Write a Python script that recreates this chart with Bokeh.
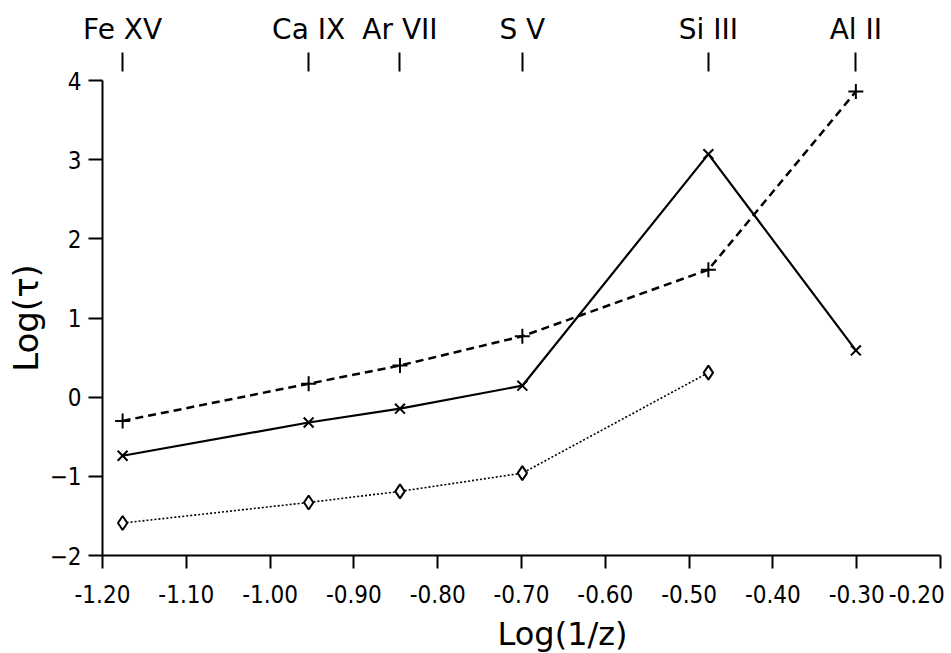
from bokeh.plotting import figure
from bokeh.models import Range1d, FixedTicker, LinearAxis, Title
from bokeh.embed import file_html
from bokeh.resources import INLINE

# ---- data ----
ion_elements = ["Fe", "Ca", "Ar", "S", "Si", "Al"]
ion_stages = ["XV", "IX", "VII", "V", "III", "II"]
log_inv_z = [-1.176, -0.954, -0.845, -0.699, -0.477, -0.301]

tau_dashed = [-0.30, 0.17, 0.40, 0.77, 1.61, 3.86]     # '+' markers
tau_solid = [-0.74, -0.32, -0.145, 0.145, 3.07, 0.59]  # 'x' markers
tau_dotted = [-1.59, -1.33, -1.19, -0.96, 0.31]        # diamonds (no Al II)

x_ticks = [-1.2, -1.1, -1.0, -0.9, -0.8, -0.7, -0.6, -0.5, -0.4, -0.3, -0.2]
x_tick_labels = ["-1.20", "-1.10", "-1.00", "-0.90", "-0.80", "-0.70",
                 "-0.60", "-0.50", "-0.40", "-0.30", "-0.20\u00a0"]
y_ticks = [-2, -1, 0, 1, 2, 3, 4]

NARROW = "DejaVu Sans Condensed"

p = figure(width=951, height=653, output_backend="svg", toolbar_location=None,
           x_range=Range1d(-1.2, -0.2), y_range=Range1d(-2, 4),
           min_border_left=102, min_border_right=11, min_border_top=80,
           min_border_bottom=97, background_fill_color="white",
           border_fill_color="white")
p.outline_line_color = None
p.grid.visible = False

# axes
xa = p.xaxis[0]
xa.ticker = FixedTicker(ticks=x_ticks)
xa.major_label_overrides = {t: l for t, l in zip(x_ticks, x_tick_labels)}
xa.bounds = (-1.2, -0.2)
ya = p.yaxis[0]
ya.ticker = FixedTicker(ticks=y_ticks)
ya.bounds = (-2, 4)
for ax in (xa, ya):
    ax.axis_line_width = 2
    ax.axis_line_color = "black"
    ax.major_tick_line_width = 2
    ax.major_tick_line_color = "black"
    ax.major_tick_in = 0
    ax.minor_tick_line_color = None
    ax.major_label_text_font = NARROW
    ax.major_label_text_font_size = "24px"
    ax.major_label_text_color = "black"
xa.major_tick_out = 13
xa.major_label_standoff = 12
ya.major_tick_out = 14
ya.major_label_standoff = 7
ya.axis_label = "Log(\u03c4)"
ya.axis_label_text_font = "DejaVu Sans"
ya.axis_label_text_font_size = "34px"
ya.axis_label_text_font_style = "normal"
ya.axis_label_text_color = "black"
ya.axis_label_standoff = 1

# top axis with ion names
ion_labels = [e + " " + s for e, s in zip(ion_elements, ion_stages)]
top = LinearAxis(ticker=FixedTicker(ticks=log_inv_z),
                 major_label_overrides={x: l for x, l in zip(log_inv_z, ion_labels)})
top.axis_line_color = None
top.minor_tick_line_color = None
top.major_tick_line_color = "black"
top.major_tick_line_width = 2
top.major_tick_in = -9
top.major_tick_out = 28
top.major_label_standoff = 7
top.major_label_text_font = "DejaVu Sans"
top.major_label_text_font_size = "28px"
top.major_label_text_color = "black"
p.add_layout(top, "above")

# x title (offset to the right as in the reference)
p.add_layout(Title(text="Log(1/z)", align="left", offset=395, text_font="DejaVu Sans",
                   text_font_size="32px", text_font_style="normal",
                   text_color="black", standoff=2), "below")

# series
p.line(log_inv_z, tau_dashed, line_color="black", line_width=2.5, line_dash="8 5")
p.scatter(log_inv_z, tau_dashed, marker="cross", size=15, line_color="black", line_width=2)

p.line(log_inv_z, tau_solid, line_color="black", line_width=2.2)
p.scatter(log_inv_z, tau_solid, marker="x", size=14, line_color="black", line_width=2)

p.line(log_inv_z[:5], tau_dotted, line_color="black", line_width=1.6, line_dash="2 2")
p.scatter(log_inv_z[:5], tau_dotted, marker="diamond", size=14, line_color="black",
          line_width=2, fill_color="white")

open("out.html", "w").write(file_html(p, INLINE))
